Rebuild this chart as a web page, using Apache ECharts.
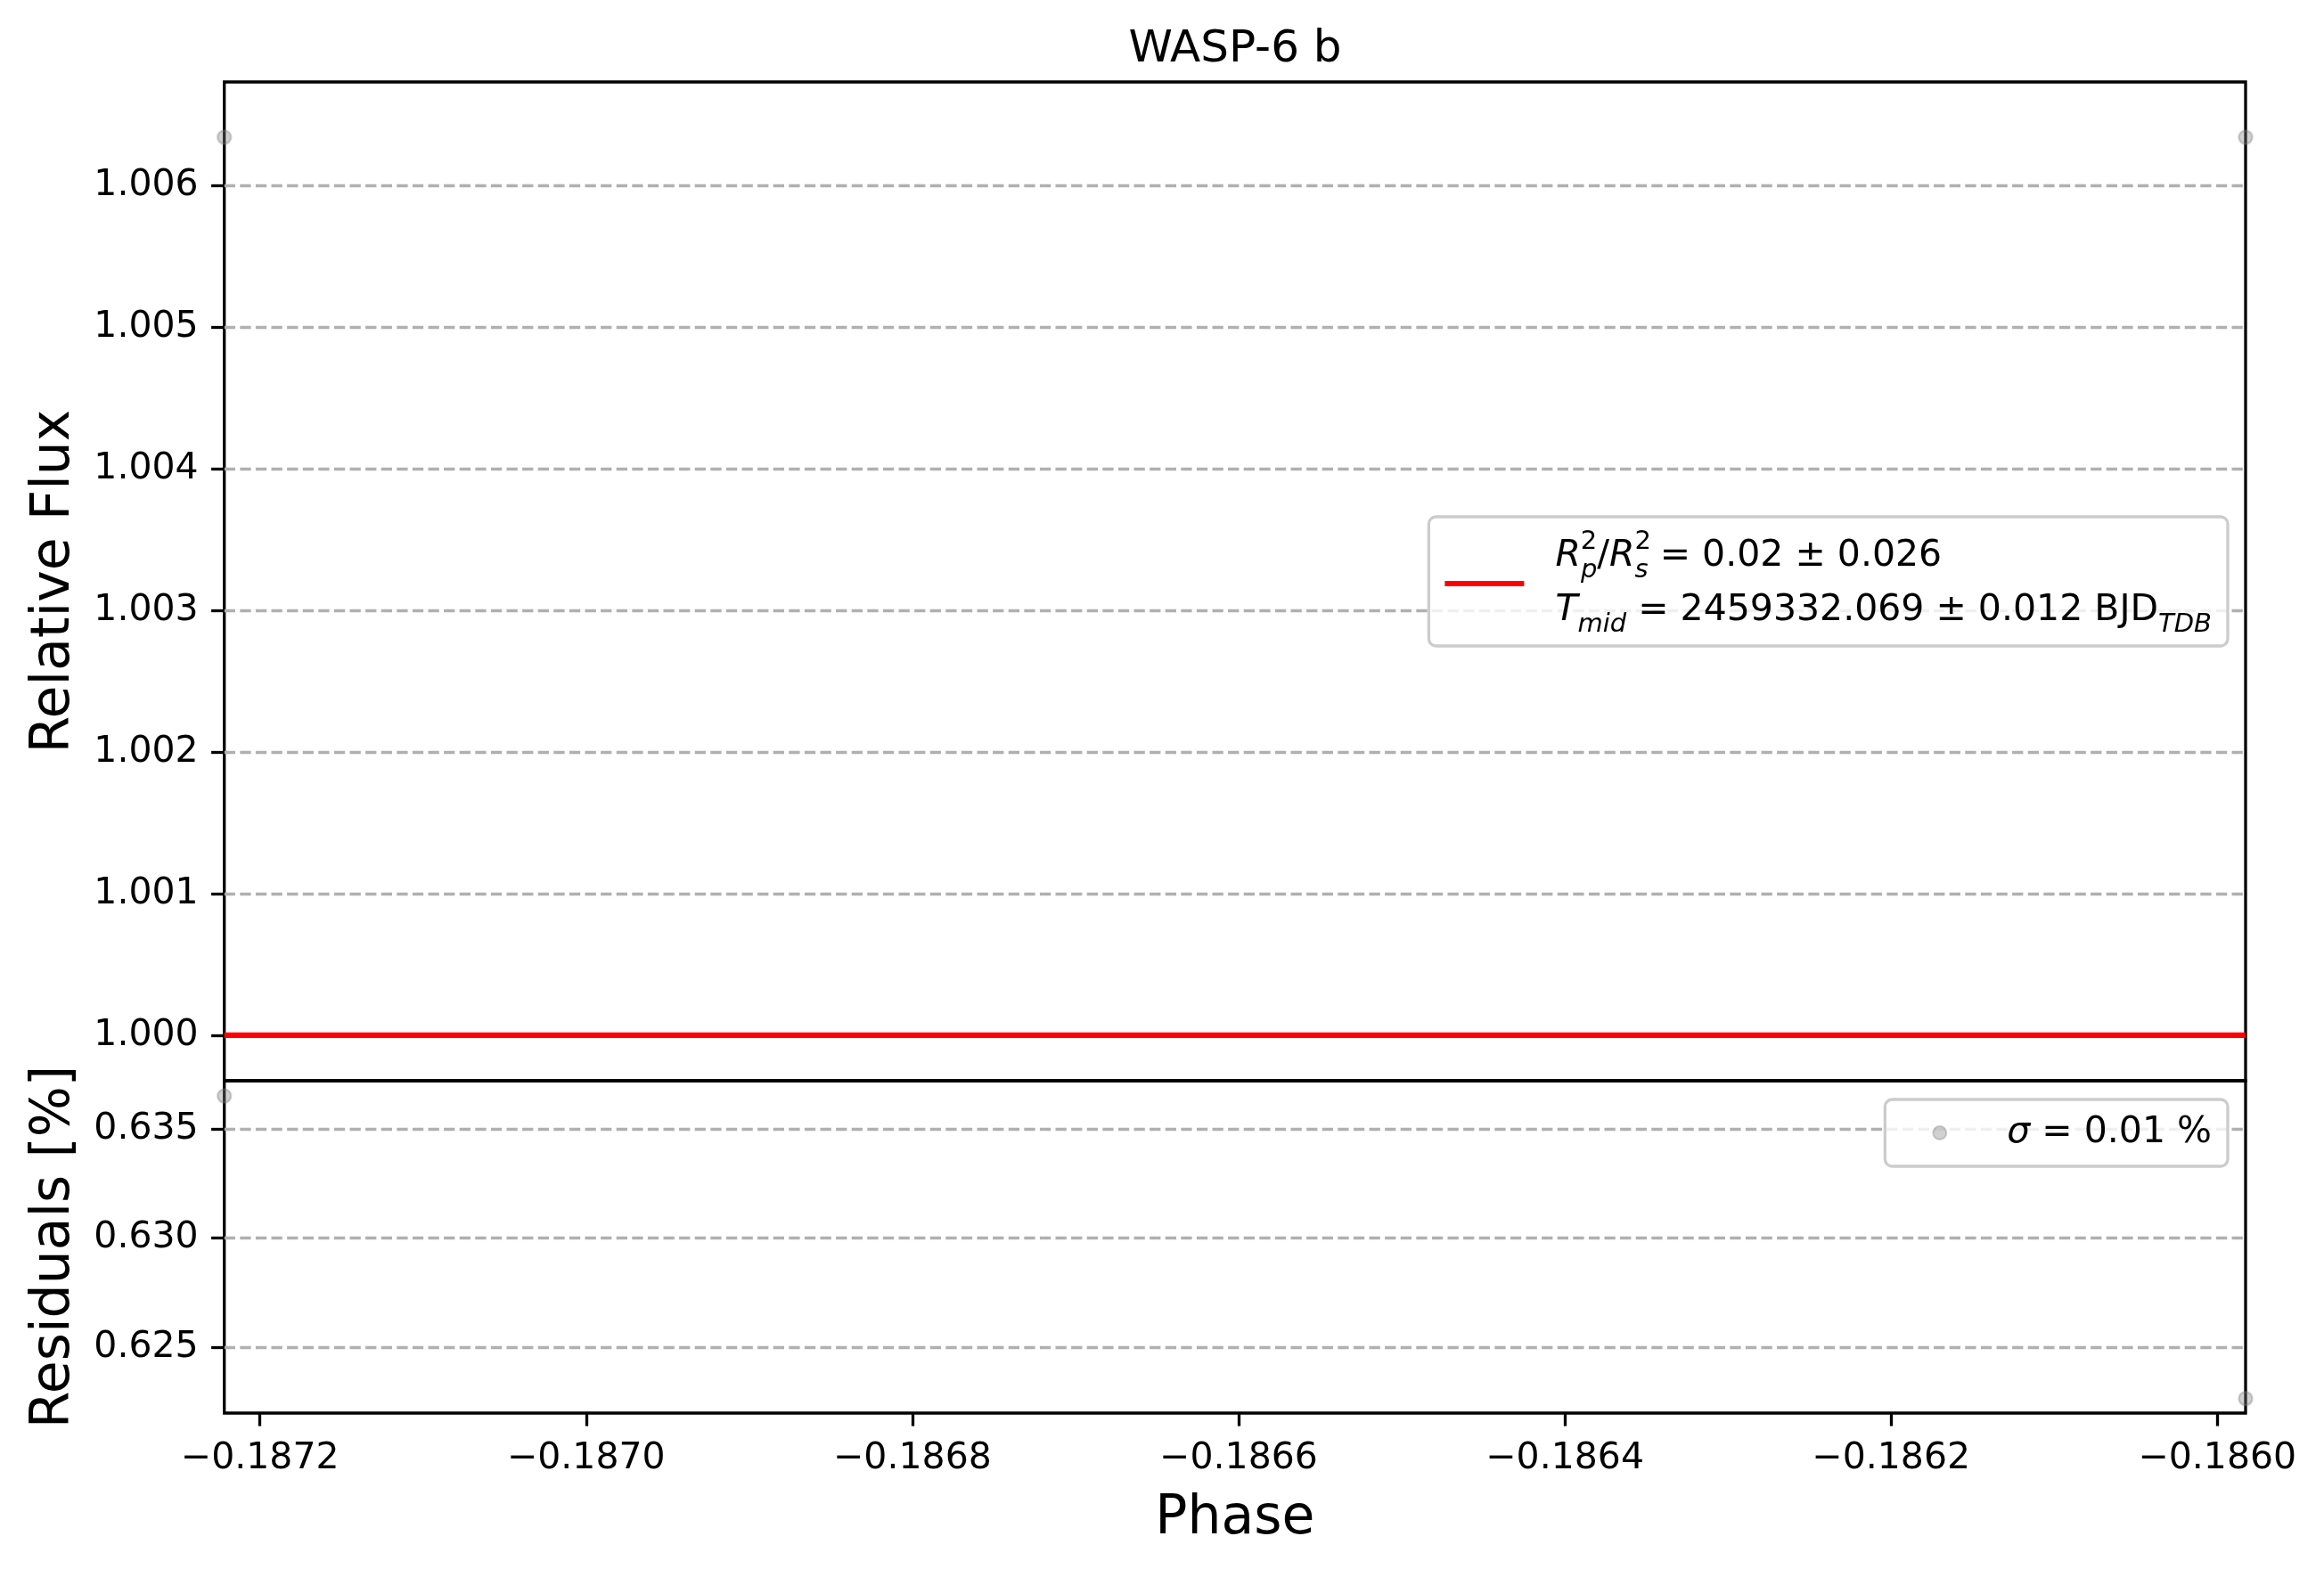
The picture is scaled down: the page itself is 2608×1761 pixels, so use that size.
<!DOCTYPE html>
<html>
<head>
<meta charset="utf-8">
<script src="https://cdn.jsdelivr.net/npm/echarts@6/dist/echarts.min.js"></script>
<style>
  html, body { margin: 0; padding: 0; background: #fff; }
  #chart { width: 2608px; height: 1761px; }
</style>
</head>
<body>
<div id="chart"></div>
<script>
// ---- data ----
const phaseData = [-0.18722185, -0.18598268];
const fluxData = [1.006342, 1.006342];
const modelPhase = [-0.18722185, -0.18598268];
const modelFlux = [1.0, 1.0];
const residualData = [0.636516, 0.622647];

const phaseLimits = [-0.18722185, -0.18598268];
const fluxLimits = [0.999679, 1.006732];
const residualLimits = [0.621981, 0.637214];

const phaseTicks = [-0.1872, -0.1870, -0.1868, -0.1866, -0.1864, -0.1862, -0.1860];
const fluxTicks = [1.000, 1.001, 1.002, 1.003, 1.004, 1.005, 1.006];
const residualTicks = [0.625, 0.630, 0.635];

const titleText = 'WASP-6 b';
const depthText = ' = 0.02 ± 0.026';
const tmidText = ' = 2459332.069 ± 0.012 BJD';
const sigmaText = ' = 0.01 %';

// ---- chart ----
const FONT = 'DejaVu Sans';
const chart = echarts.init(document.getElementById('chart'), null, { renderer: 'canvas' });

const gridLine = { show: true, lineStyle: { color: '#b0b0b0', width: 3.3, type: [12.3, 5.3] } };
const tick = { show: true, inside: false, length: 14.6, lineStyle: { color: '#000', width: 3.3 } };
const labelStyle = { color: '#000', fontFamily: FONT, fontSize: 41 };
const markerStyle = { color: 'rgba(128,128,128,0.45)', borderColor: 'rgba(128,128,128,0.45)', borderWidth: 2.5 };

const legendBox = {
  backgroundColor: 'rgba(255,255,255,0.8)',
  borderColor: '#cccccc',
  borderWidth: 3.3,
  borderRadius: 8,
  selectedMode: false,
  orient: 'vertical'
};

const option = {
  animation: false,
  backgroundColor: '#ffffff',
  title: {
    text: titleText,
    left: 1386, top: 31, textAlign: 'center', padding: 0,
    textStyle: { fontFamily: FONT, fontSize: 50, fontWeight: 'normal', color: '#000' }
  },
  grid: [
    { left: 251.7, right: 88, top: 92, height: 1121, show: true, borderColor: '#000', borderWidth: 3.3,
      backgroundColor: 'transparent', containLabel: false, outerBoundsMode: 'none' },
    { left: 251.7, right: 88, top: 1213, height: 373, show: true, borderColor: '#000', borderWidth: 3.3,
      backgroundColor: 'transparent', containLabel: false, outerBoundsMode: 'none' }
  ],
  xAxis: [
    { type: 'value', gridIndex: 0, min: phaseLimits[0], max: phaseLimits[1],
      axisLine: { show: false }, axisTick: { show: false }, axisLabel: { show: false }, splitLine: { show: false } },
    { type: 'value', gridIndex: 1, min: phaseLimits[0], max: phaseLimits[1],
      name: 'Phase', nameLocation: 'middle', nameGap: 89,
      nameTextStyle: { fontFamily: FONT, fontSize: 60, color: '#000' },
      axisLine: { show: false },
      axisTick: Object.assign({ customValues: phaseTicks }, tick),
      axisLabel: Object.assign({ customValues: phaseTicks, margin: 31,
        formatter: v => (v < 0 ? '\u2212' : '') + Math.abs(v).toFixed(4) }, labelStyle),
      splitLine: { show: false } }
  ],
  yAxis: [
    { type: 'value', gridIndex: 0, min: fluxLimits[0], max: fluxLimits[1],
      name: 'Relative Flux', nameLocation: 'middle', nameGap: 160, nameRotate: 90,
      nameTextStyle: { fontFamily: FONT, fontSize: 60, color: '#000' },
      axisLine: { show: false },
      axisTick: Object.assign({ customValues: fluxTicks }, tick),
      axisLabel: Object.assign({ customValues: fluxTicks, margin: 29, formatter: v => v.toFixed(3) }, labelStyle),
      splitLine: gridLine },
    { type: 'value', gridIndex: 1, min: residualLimits[0], max: residualLimits[1],
      name: 'Residuals [%]', nameLocation: 'middle', nameGap: 160, nameRotate: 90,
      nameTextStyle: { fontFamily: FONT, fontSize: 60, color: '#000' },
      axisLine: { show: false },
      axisTick: Object.assign({ customValues: residualTicks }, tick),
      axisLabel: Object.assign({ customValues: residualTicks, margin: 29, formatter: v => v.toFixed(3) }, labelStyle),
      splitLine: gridLine }
  ],
  legend: [
    Object.assign({
      data: [{ name: 'model', icon: 'rect' }],
      right: 108, top: 580,
      itemWidth: 89, itemHeight: 6,
      padding: [14, 18, 9, 18],
      formatter: () => '{i0|R}{supz|2}{sub|p}{t|/}{i|R}{supz|2}{sub|s}{t|' + depthText + '}\n' +
                       '{i0|T}{sub2|mid}{t|' + tmidText + '}{sub2|TDB}',
      textStyle: {
        fontFamily: FONT, fontSize: 41, color: '#000', lineHeight: 61,
        rich: {
          t: { fontFamily: FONT, fontSize: 41, lineHeight: 61, color: '#000' },
          i: { fontFamily: FONT, fontSize: 41, lineHeight: 61, fontStyle: 'italic', color: '#000' },
          i0: { fontFamily: FONT, fontSize: 41, lineHeight: 61, fontStyle: 'italic', color: '#000', padding: [0, 0, 0, 30] },
          supz: { fontFamily: FONT, fontSize: 29, lineHeight: 48, verticalAlign: 'top', color: '#000', width: 0.01 },
          sub: { fontFamily: FONT, fontSize: 29, lineHeight: 32, verticalAlign: 'bottom', fontStyle: 'italic', color: '#000' },
          sub2: { fontFamily: FONT, fontSize: 29, lineHeight: 40, verticalAlign: 'bottom', fontStyle: 'italic', color: '#000' }
        }
      }
    }, legendBox),
    Object.assign({
      data: [{ name: 'residuals', icon: 'circle' }],
      right: 108, top: 1234,
      itemWidth: 83, itemHeight: 15,
      padding: [15, 18, 15, 53],
      formatter: () => '{sig|\u03c3}{t|' + sigmaText + '}',
      textStyle: {
        fontFamily: FONT, fontSize: 41, color: '#000', lineHeight: 45,
        rich: {
          sig: { fontFamily: FONT, fontSize: 41, lineHeight: 45, fontStyle: 'italic', color: '#000', padding: [0, 0, 0, 29] },
          t: { fontFamily: FONT, fontSize: 41, lineHeight: 45, color: '#000' }
        }
      }
    }, legendBox)
  ],
  series: [
    { name: 'data', type: 'scatter', xAxisIndex: 0, yAxisIndex: 0,
      symbol: 'circle', symbolSize: 15, itemStyle: markerStyle,
      data: phaseData.map((p, i) => [p, fluxData[i]]) },
    { name: 'model', type: 'line', xAxisIndex: 0, yAxisIndex: 0,
      symbol: 'none', showSymbol: false,
      lineStyle: { color: '#ff0000', width: 6.25 }, itemStyle: { color: '#ff0000' },
      data: modelPhase.map((p, i) => [p, modelFlux[i]]) },
    { name: 'residuals', type: 'scatter', xAxisIndex: 1, yAxisIndex: 1,
      symbol: 'circle', symbolSize: 15, itemStyle: markerStyle,
      data: phaseData.map((p, i) => [p, residualData[i]]) }
  ]
};
chart.setOption(option);
</script>
</body>
</html>
